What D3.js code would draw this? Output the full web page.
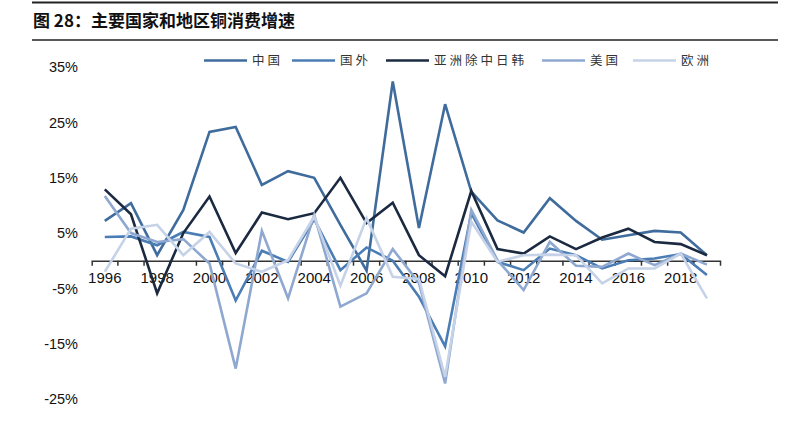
<!DOCTYPE html>
<html>
<head>
<meta charset="utf-8">
<script src="https://cdn.jsdelivr.net/npm/d3@7"></script>
<style>
  body { margin: 0; background: #fff; }
</style>
</head>
<body>
<div id="chart"></div>
<script>
//***************** data *******************/
var years = [1996, 1997, 1998, 1999, 2000, 2001, 2002, 2003, 2004, 2005, 2006, 2007,
             2008, 2009, 2010, 2011, 2012, 2013, 2014, 2015, 2016, 2017, 2018, 2019];

var china  = [7.2, 10.4, 1.0, 9.2, 23.3, 24.2, 13.7, 16.2, 15.0, 6.5, -1.8, 32.4,
              5.9, 28.3, 12.5, 7.3, 5.1, 11.3, 7.2, 3.8, 4.6, 5.4, 5.1, 1.0];
var abroad = [4.3, 4.4, 2.8, 5.2, 4.3, -7.2, 1.8, -0.2, 7.5, -1.7, 2.4, 0.0,
              -6.5, -15.5, 8.6, -0.2, -1.7, 2.2, 1.0, -1.4, 0.1, 0.4, 1.2, -2.6];
var asia   = [12.9, 8.4, -5.9, 5.0, 11.6, 1.4, 8.7, 7.5, 8.6, 15.0, 6.8, 10.5,
              1.0, -2.8, 12.6, 2.1, 1.3, 4.4, 2.1, 4.2, 5.8, 3.4, 3.0, 1.0];
var usa    = [11.7, 5.0, 3.4, 3.9, -0.5, -19.5, 5.4, -6.8, 8.3, -8.3, -5.9, 2.1,
              -4.0, -22.2, 9.2, 0.1, -5.3, 3.4, -0.9, -1.1, 1.3, -0.8, 1.3, -0.7];
var europe = [-2.0, 5.8, 6.5, 1.0, 5.2, -0.5, -2.0, 0.1, 8.0, -4.5, 7.7, -2.9,
              -3.3, -21.0, 7.1, -0.2, 1.0, 1.1, 1.0, -4.1, -1.4, -1.4, 1.3, -6.8];

var seriesNames = ["中国", "国外", "亚洲除中日韩", "美国", "欧洲"];
var yTicks = [-25, -15, -5, 5, 15, 25, 35];
var xLabels = [1996, 1998, 2000, 2002, 2004, 2006, 2008, 2010, 2012, 2014, 2016, 2018];

var seriesValues = [china, abroad, asia, usa, europe];
var colors = ["#3f6c9c", "#4b7db5", "#1b2a41", "#8fa8d0", "#c5d2e8"];

//************* set dimensions ***************/
var W = 793, H = 421;

var svg = d3.select("#chart")
  .append("svg")
    .attr("width", W)
    .attr("height", H);

//***************** title *******************/
svg.append("line")
  .attr("x1", 32).attr("x2", 778).attr("y1", 2.5).attr("y2", 2.5)
  .attr("stroke", "#222").attr("stroke-width", 2);
svg.append("line")
  .attr("x1", 32).attr("x2", 778).attr("y1", 40).attr("y2", 40)
  .attr("stroke", "#222").attr("stroke-width", 1.5);
svg.append("text")
  .attr("x", 33)
  .attr("y", 27)
  .attr("font-family", "'Noto Sans CJK SC', sans-serif")
  .attr("font-weight", "bold")
  .style("font-size", "17px")
  .style("fill", "#111")
  .text("图 28：主要国家和地区铜消费增速");

//***************** scales *******************/
var x = d3.scaleBand()
  .domain(years)
  .range([91.7, 720]);

var y = d3.scaleLinear()
  .domain([-25, 35])
  .range([399, 67.15]);

// y labels (no axis line)
svg.append("g")
  .selectAll("text")
  .data(yTicks)
  .enter()
  .append("text")
    .attr("x", 78)
    .attr("y", function(d) { return y(d); })
    .attr("dy", "0.36em")
    .attr("text-anchor", "end")
    .attr("font-family", "'Liberation Sans', Arial, sans-serif")
    .style("font-size", "14.5px")
    .style("fill", "#111")
    .text(function(d) { return d + "%"; });

// x axis at zero
var xAxis = d3.axisBottom(x)
  .tickValues(xLabels)
  .tickSizeInner(0)
  .tickSizeOuter(5)
  .tickPadding(12);
var gx = svg.append("g")
  .attr("transform", "translate(0," + y(0) + ")")
  .call(xAxis);
gx.select(".domain").attr("stroke", "#333").attr("stroke-width", 1.5);
gx.selectAll("text")
  .attr("font-family", "'Liberation Sans', Arial, sans-serif")
  .style("font-size", "15px")
  .style("fill", "#111");
// boundary ticks between years
gx.selectAll(".bound")
  .data(years.slice(1))
  .enter()
  .append("line")
    .attr("class", "bound")
    .attr("x1", function(d) { return x(d); })
    .attr("x2", function(d) { return x(d); })
    .attr("y1", 0)
    .attr("y2", 5)
    .attr("stroke", "#333")
    .attr("stroke-width", 1.5);

//***************** lines *******************/
var line = d3.line()
  .x(function(d, i) { return x(years[i]) + x.bandwidth() / 2; })
  .y(function(d) { return y(d); });

svg.append("g")
  .selectAll("path")
  .data(seriesValues)
  .enter()
  .append("path")
    .attr("d", function(d) { return line(d); })
    .attr("fill", "none")
    .attr("stroke", function(d, i) { return colors[i]; })
    .attr("stroke-width", 2.6)
    .attr("stroke-linejoin", "miter");

//***************** legend *******************/
var legendX = [204, 292, 386, 542, 633];
var lg = svg.append("g");
seriesNames.forEach(function(name, i) {
  lg.append("line")
    .attr("x1", legendX[i]).attr("x2", legendX[i] + 43)
    .attr("y1", 60.5).attr("y2", 60.5)
    .attr("stroke", colors[i])
    .attr("stroke-width", 2.6);
  lg.append("text")
    .attr("x", legendX[i] + 48)
    .attr("y", 60.5)
    .attr("dy", "0.36em")
    .attr("font-family", "'Noto Sans CJK SC', sans-serif")
    .style("font-size", "12.5px")
    .style("letter-spacing", "3px")
    .style("fill", "#333")
    .text(name);
});
</script>
</body>
</html>
